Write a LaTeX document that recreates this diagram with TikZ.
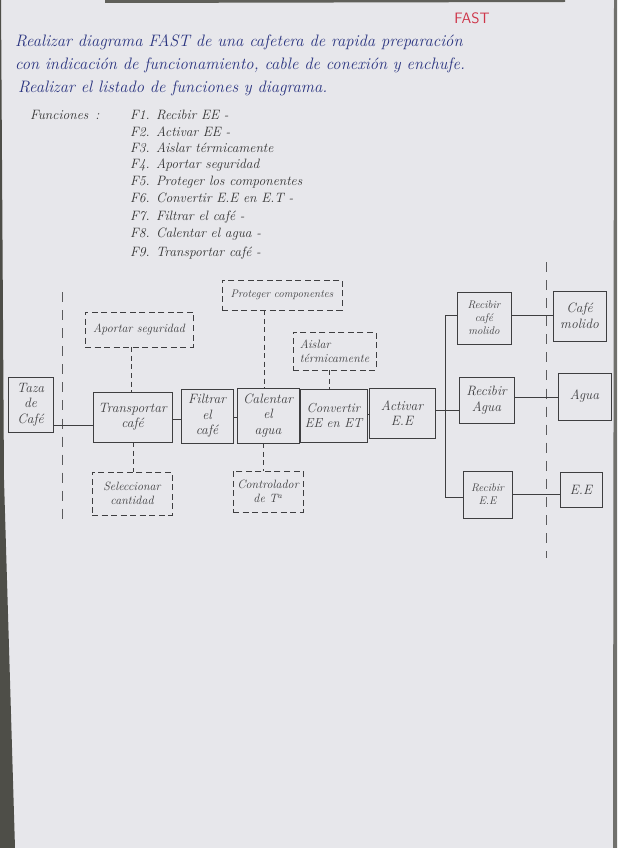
\documentclass[tikz,border=0pt]{standalone}
\usepackage{amssymb}
\usetikzlibrary{positioning}

\definecolor{paper}{RGB}{231,231,235}
\definecolor{ink}{RGB}{42,52,128}
\definecolor{redink}{RGB}{206,52,72}
\definecolor{pencil}{RGB}{62,62,64}
\definecolor{edge}{RGB}{78,78,72}

\begin{document}
\begin{tikzpicture}[x=0.035cm, y=-0.035cm,
    hand/.style={font=\itshape\fontsize{13.5}{15.5}\selectfont, text=pencil, align=center, inner sep=1pt},
    small/.style={font=\itshape\fontsize{12}{14}\selectfont},
    tiny/.style={font=\itshape\fontsize{11}{13}\selectfont},
    funcbox/.style 2 args={hand, draw=pencil, line width=0.8pt,
        minimum width=#1*0.035cm, minimum height=#2*0.035cm},
    dashbox/.style 2 args={funcbox={#1}{#2}, dash pattern=on 6pt off 3.5pt},
    link/.style={draw=pencil, line width=0.7pt},
    dlink/.style={link, dash pattern=on 5pt off 3.5pt},
    scopeline/.style={draw=pencil!85, line width=0.8pt, dash pattern=on 10pt off 8pt},
    enun/.style={anchor=base west, text=ink, font=\itshape\fontsize{16.5}{19}\selectfont, inner sep=0pt},
    lista/.style={anchor=base west, text=black!80, font=\itshape\fontsize{13.5}{16}\selectfont, inner sep=0pt}]

    % paper
    \useasboundingbox (0,0) rectangle (617,848);
    \fill[paper] (0,0) rectangle (617,848);
    \fill[edge] (0,0) -- (1,0) -- (4,480) -- (15,848) -- (0,848) -- cycle;
    \fill[edge!80] (614,0) -- (617,0) -- (617,848) -- (613,848) -- cycle;
    \fill[edge!90] (105,0) -- (565,0) -- (565,2) -- (105,3) -- cycle;

    % enunciado
    \node[anchor=base, text=redink, font=\sffamily\fontsize{15}{17}\selectfont] (titulo) at (472,24) {FAST};
    \node[enun] (enun1) at (15,47) {Realizar diagrama FAST de una cafetera de rapida preparación};
    \node[enun] (enun2) at (15,70) {con indicación de funcionamiento, cable de conexión y enchufe.};
    \node[enun] (enun3) at (18,93) {Realizar el listado de funciones y diagrama.};

    % listado de funciones
    \node[lista] (funciones) at (30,120) {Funciones\, :};
    \node[lista] (f1) at (130,120) {F1. Recibir EE -};
    \node[lista] (f2) at (130,137) {F2. Activar EE -};
    \node[lista] (f3) at (130,153) {F3. Aislar térmicamente};
    \node[lista] (f4) at (130,169) {F4. Aportar seguridad};
    \node[lista] (f5) at (130,186) {F5. Proteger los componentes};
    \node[lista] (f6) at (130,202) {F6. Convertir E.E en E.T -};
    \node[lista] (f7) at (130,220) {F7. Filtrar el café -};
    \node[lista] (f8) at (130,237) {F8. Calentar el agua -};
    \node[lista] (f9) at (130,256) {F9. Transportar café -};

    % limites del sistema
    \coordinate (limA1) at (62,292);
    \coordinate (limA2) at (62,523);
    \coordinate (limB1) at (546,262);
    \coordinate (limB2) at (546,558);
    \draw[scopeline] (limA1) -- (limA2);
    \draw[scopeline] (limB1) -- (limB2);

    % funciones principales
    \node[funcbox={45}{55}] (taza) at (30.5,404.5) {Taza\\de\\Café};
    \node[funcbox={79}{50}] (transp) at (132.5,417) {Transportar\\café};
    \node[funcbox={52}{54}] (filtrar) at (207,416) {Filtrar\\el\\café};
    \node[funcbox={62}{55}] (calentar) at (268,415.5) {Calentar\\el\\agua};
    \node[funcbox={67}{53}, font=\itshape\fontsize{13}{15.5}\selectfont] (convertir) at (333.5,415.5) {Convertir\\EE en ET};
    \node[funcbox={66}{50}] (activar) at (402,413) {Activar\\E.E};

    \node[funcbox={54}{52}, tiny] (rcafe) at (484,318) {Recibir\\café\\molido};
    \node[funcbox={55}{46}] (ragua) at (486.5,400) {Recibir\\Agua};
    \node[funcbox={49}{47}, tiny] (ree) at (487.5,494.5) {Recibir\\E.E};

    \node[funcbox={53}{50}] (cafe) at (579.5,316) {Café\\molido};
    \node[funcbox={53}{47}] (agua) at (584.5,396.5) {Agua};
    \node[funcbox={42}{35}] (ee) at (581,489.5) {E.E};

    % funciones auxiliares
    \node[dashbox={108}{35}, small] (seguridad) at (139,329.5) {Aportar seguridad};
    \node[dashbox={120}{30}, tiny] (proteger) at (282,295) {Proteger componentes};
    \node[dashbox={83}{38}, small, align=left] (aislar) at (334.5,351) {Aislar\\térmicamente};
    \node[dashbox={80}{43}, small] (seleccionar) at (132,493.5) {Seleccionar\\cantidad};
    \node[dashbox={70}{41}, small] (controlador) at (268,491.5) {Controlador\\de T\textsuperscript{a}};

    % conexiones
    \draw[link] (taza.east |- 0,425) -- (transp.west |- 0,425);
    \draw[link] (transp.east |- 0,419) -- (filtrar.west |- 0,419);
    \draw[link] (filtrar.east |- 0,417) -- (calentar.west |- 0,417);
    \draw[link] (calentar.east |- 0,417) -- (convertir.west |- 0,417);
    \draw[link] (convertir.east |- 0,414) -- (activar.west |- 0,414);

    \coordinate (busA) at (445,315);
    \coordinate (busB) at (445,497);
    \draw[link] (busA) -- (busB);
    \draw[link] (activar.east |- 0,410) -- (ragua.west |- 0,410);
    \draw[link] (busA) -- (rcafe.west |- busA);
    \draw[link] (busB) -- (ree.west |- busB);

    \draw[link] (rcafe.east |- 0,315) -- (cafe.west |- 0,315);
    \draw[link] (ragua.east |- 0,397) -- (agua.west |- 0,397);
    \draw[link] (ree.east |- 0,494) -- (ee.west |- 0,494);

    \draw[dlink] (seguridad.south -| 131,0) -- (transp.north -| 131,0);
    \draw[dlink] (transp.south -| 133,0) -- (seleccionar.north -| 133,0);
    \draw[dlink] (proteger.south -| 264,0) -- (calentar.north -| 264,0);
    \draw[dlink] (calentar.south -| 263,0) -- (controlador.north -| 263,0);
    \draw[dlink] (aislar.south -| 329,0) -- (convertir.north -| 329,0);
\end{tikzpicture}
\end{document}
